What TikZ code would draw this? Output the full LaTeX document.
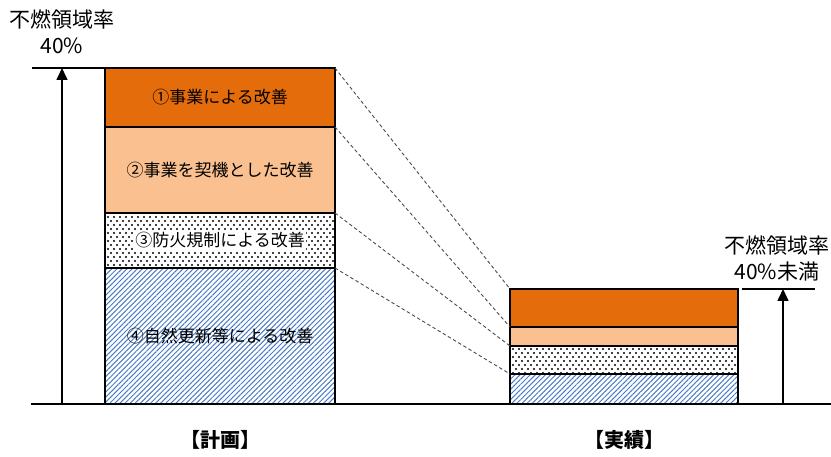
\documentclass[tikz,border=0pt]{standalone}
\usepackage{fontspec}
\setmainfont{Noto Sans CJK JP}
\usepackage{xcolor}
\usetikzlibrary{arrows.meta,patterns.meta}

\definecolor{koiorange}{HTML}{E46C0A}
\definecolor{usuorange}{HTML}{FAC090}
\definecolor{shaseniro}{HTML}{4A7CC4}

\tikzdeclarepattern{name=tenten,type=uncolored,
  bounding box={(-1.5pt,-1.5pt) and (7.5pt,9.5pt)},tile size={(6pt,8pt)},
  code={\fill (0pt,0pt) circle (1.05pt); \fill (3pt,4pt) circle (1.05pt);}}

\begin{document}
\begin{tikzpicture}[x=1pt,y=-1pt,
   kubun/.style={draw,line width=2.6pt,anchor=north west,inner sep=0pt,outer sep=0pt,
     font=\fontsize{17}{20}\selectfont},
   hidari/.style={kubun,minimum width=230pt},
   migi/.style={kubun,minimum width=228pt},
   ten/.style={pattern=tenten},
   shasen/.style={pattern={Lines[angle=45,distance=3.6pt,line width=1pt]},pattern color=shaseniro},
   yajirushi/.style={-{Triangle[length=12pt,width=11pt]},line width=1.6pt},
   tensen/.style={draw=black!70,line width=0.9pt,dash pattern=on 3.5pt off 2.5pt},
   midashi/.style={font=\fontsize{21}{26}\selectfont,align=center},
   kakko/.style={font=\bfseries\fontsize{20}{22}\selectfont}]

  \useasboundingbox (0,0) rectangle (831,457);

  % 計画
  \node[hidari,fill=koiorange,minimum height=59pt] (p1) at (105,68) {①事業による改善};
  \node[hidari,fill=usuorange,minimum height=86pt] (p2) at (p1.south west) {②事業を契機とした改善};
  \node[hidari,ten,minimum height=55pt] (p3) at (p2.south west) {};
  \node[fill=white,inner sep=1.5pt,font=\fontsize{17}{20}\selectfont] (p3t) at (p3) {③防火規制による改善};
  \node[hidari,shasen,minimum height=136pt] (p4) at (p3.south west) {④自然更新等による改善};

  % 実績
  \node[migi,fill=koiorange,minimum height=38pt] (j1) at (510,289) {};
  \node[migi,fill=usuorange,minimum height=19pt] (j2) at (j1.south west) {};
  \node[migi,ten,minimum height=28pt] (j3) at (j2.south west) {};
  \node[migi,shasen,minimum height=30pt] (j4) at (j3.south west) {};

  \foreach \from/\to in {p1/j1,p2/j2,p3/j3,p4/j4}
    \draw[tensen] (\from.north east) -- (\to.north west);

  % 基準線と矢印
  \coordinate (kihon) at (31,404);
  \coordinate (owari) at (831,404);
  \draw[line width=1.6pt] (kihon) -- (owari);

  \coordinate (hue) at (32,68);
  \coordinate (hya) at (62,404);
  \draw[line width=1.6pt] (hue) -- (p1.north west);
  \draw[yajirushi] (hya) -- (hya |- hue);

  \coordinate (mue1) at (742,289);
  \coordinate (mue2) at (815,289);
  \coordinate (mya) at (783,404);
  \draw[line width=1.6pt] (mue1) -- (mue2);
  \draw[yajirushi] (mya) -- (mya |- mue1);

  \node[midashi] (hl) at (62,32) {不燃領域率\\40\%};
  \node[midashi] (ml) at (777,258) {不燃領域率\\40\%未満};

  \node[kakko] (keikaku) at (220,440) {【計画】};
  \node[kakko] (jisseki) at (624,440) {【実績】};
\end{tikzpicture}
\end{document}
